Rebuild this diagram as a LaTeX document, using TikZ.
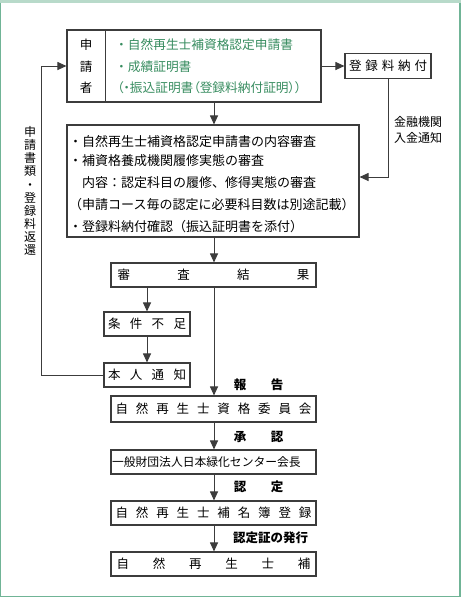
\documentclass[tikz,border=0pt]{standalone}
\usepackage{fontspec}
\setmainfont{Noto Sans CJK JP}
\usetikzlibrary{arrows.meta}
\definecolor{frameside}{RGB}{112,180,150}
\definecolor{frametop}{RGB}{184,218,202}
\definecolor{jgreen}{RGB}{55,140,95}
\definecolor{lineg}{RGB}{60,60,60}
\newcommand\spreadtxt[2]{\makebox[#1pt]{#2}}
\begin{document}
\begin{tikzpicture}[x=1pt,y=-1pt,
 box/.style={draw=lineg,line width=1.1pt,inner sep=0pt,minimum height=24pt,font=\fontsize{12.5}{12.5}\selectfont},
 arr/.style={draw=lineg,line width=1pt,-{Triangle[length=9pt,width=8pt]}},
 ln/.style={draw=lineg,line width=1pt},
 txt/.style={inner sep=0pt,anchor=west,font=\fontsize{13}{13}\selectfont},
 gtxt/.style={inner sep=0pt,anchor=west,text=jgreen,font=\fontsize{12.7}{12.7}\selectfont},
 lab/.style={inner sep=0pt,font=\fontsize{12.5}{12.5}\selectfont\bfseries},
]
\useasboundingbox (0,0) rectangle (461,598);
% frame
\fill[frametop] (0,0) rectangle (461,2.5);
\draw[frameside,line width=1.2pt] (0.6,2.5) -- (0.6,596.6) -- (459.9,596.6) -- (459.9,2.5);

% applicant box
\node[box,minimum width=254pt,minimum height=72pt] (app) at (194,66) {};
\draw[ln] ([xshift=39pt]app.north west) -- ([xshift=39pt]app.south west);
\node[inner sep=0pt,align=center,font=\fontsize{12.5}{21.5}\selectfont] (who) at (86,66.5) {申\\請\\者};
\node[gtxt] (g1) at (115,45) {・自然再生士補資格認定申請書};
\node[gtxt] (g2) at (115,66.5) {・成績証明書};
\node[gtxt] (g3) at (117,87.5) {\addfontfeature{RawFeature=+palt}（・振込証明書（登録料納付証明））};

% fee box
\node[box,minimum width=86pt,minimum height=25pt] (fee) at (388,66) {\spreadtxt{78}{登\hfill 録\hfill 料\hfill 納\hfill 付}};

% review box
\node[box,minimum width=292pt,minimum height=112pt] (rev) at (213,181) {};
\node[txt] (r1) at (69,142) {・自然再生士補資格認定申請書の内容審査};
\node[txt] (r2) at (69,161) {・補資格養成機関履修実態の審査};
\node[txt] (r3) at (69,183) {\hspace{13pt}内容：認定科目の履修、修得実態の審査};
\node[txt] (r4) at (69,205) {（申請コース毎の認定に必要科目数は別途記載）};
\node[txt] (r5) at (69,227) {・登録料納付確認（振込証明書を添付）};

\node[inner sep=0pt,align=left,font=\fontsize{12}{15.5}\selectfont] (bank) at (418,130) {金融機関\\入金通知};

% result boxes
\node[box,minimum width=205pt] (res) at (213.5,275) {\spreadtxt{192}{審\hfill 査\hfill 結\hfill 果}};
\node[box,minimum width=86pt] (jk) at (147,324) {\spreadtxt{78}{条\hfill 件\hfill 不\hfill 足}};
\node[box,minimum width=86pt] (notice) at (147,375) {\spreadtxt{78}{本\hfill 人\hfill 通\hfill 知}};
\node[box,minimum width=205pt,minimum height=26pt] (comm) at (213.5,409) {\spreadtxt{196}{自\hfill 然\hfill 再\hfill 生\hfill 士\hfill 資\hfill 格\hfill 委\hfill 員\hfill 会}};
\node[box,minimum width=205pt] (center) at (213.5,462) {\makebox[203pt][l]{\fontsize{11.8}{11.8}\selectfont 一般財団法人日本緑化センター会長}};
\node[box,minimum width=205pt] (roster) at (213.5,513) {\spreadtxt{196}{自\hfill 然\hfill 再\hfill 生\hfill 士\hfill 補\hfill 名\hfill 簿\hfill 登\hfill 録}};
\node[box,minimum width=205pt] (final) at (213.5,564) {\spreadtxt{194}{自\hfill 然\hfill 再\hfill 生\hfill 士\hfill 補}};

% vertical label
\node[inner sep=0pt,align=center,font=\fontsize{12}{13.1}\selectfont] (ret) at (30,191) {申\\請\\書\\類\\・\\登\\録\\料\\返\\還};

% labels
\node[lab] (l1) at (258.5,385) {\makebox[49.5pt]{報\hfill 告}};
\node[lab] (l2) at (258.5,437) {\makebox[49.5pt]{承\hfill 認}};
\node[lab] (l3) at (258.5,487) {\makebox[49.5pt]{認\hfill 定}};
\node[lab,anchor=west] (l4) at (233,538) {認定証の発行};

% connectors
\coordinate (sp) at (214,0);
\draw[arr] (app.south -| sp) -- (rev.north -| sp);
\draw[arr] (app.east) -- (fee.west);
\draw[arr] (fee.south) |- ([yshift=4pt]rev.east);
\draw[arr] (rev.south -| sp) -- (res.north -| sp);
\draw[arr] (res.south -| jk.north) -- (jk.north);
\draw[arr] (jk.south) -- (notice.north);
\draw[arr] (notice.west) -- ++(-62,0) |- (app.west);
\draw[arr] (res.south -| sp) -- (comm.north -| sp);
\draw[arr] (comm.south -| sp) -- (center.north -| sp);
\draw[arr] (center.south -| sp) -- (roster.north -| sp);
\draw[arr] (roster.south -| sp) -- (final.north -| sp);
\end{tikzpicture}
\end{document}
